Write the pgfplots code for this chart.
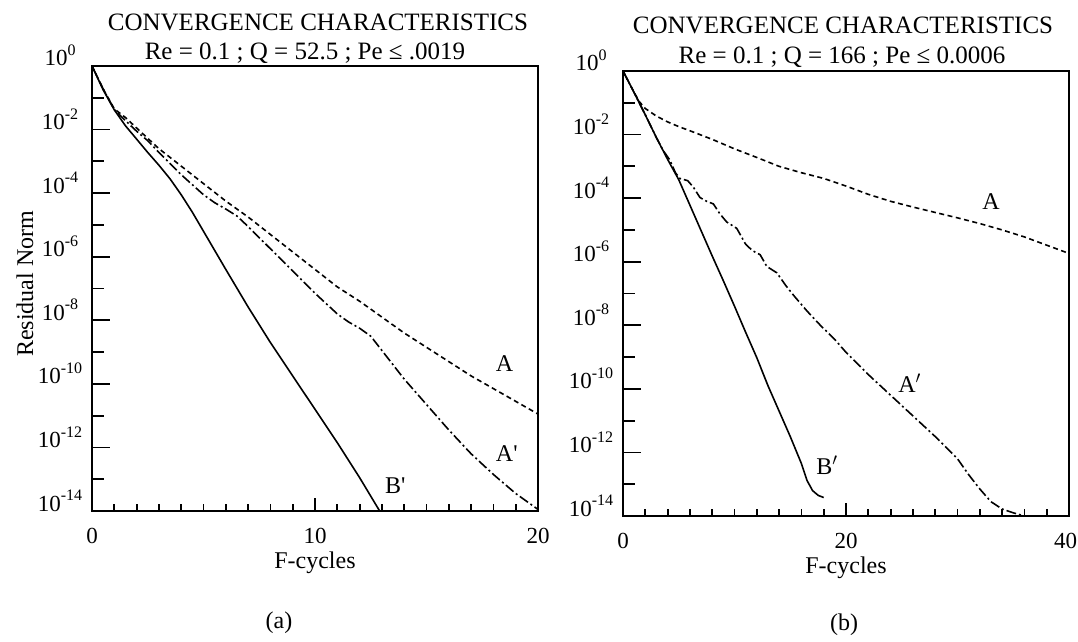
\documentclass[border=0pt]{standalone}
\usepackage{fontspec}
\setmainfont{Liberation Serif}
\usepackage{pgfplots}
\pgfplotsset{compat=1.18}
\newcommand{\ex}[1]{10\raisebox{0.45em}{\fontsize{16}{16}\selectfont #1}}
\pgfplotsset{
  panel/.style={scale only axis, width=446pt, height=445pt, anchor=south west,
    ymin=-14, ymax=0, axis line style={line width=2.2pt},
    tick align=inside, every tick/.style={black, line width=1.8pt}},
  curveA/.style={black, line width=1.6pt, dash pattern=on 5pt off 3.5pt},
  curveAp/.style={black, line width=1.6pt, dash pattern=on 10pt off 3pt on 2pt off 3pt},
  curveB/.style={black, line width=1.6pt, line join=round},
  ytickaxis/.style={panel, xtick=\empty, ytick pos=left,
    ytick={-14,-12,-10,-8,-6,-4,-2,0},
    yticklabels={\ex{-14},\ex{-12},\ex{-10},\ex{-8},\ex{-6},\ex{-4},\ex{-2},\ex{0}},
    minor ytick={-13,-11,-9,-7,-5,-3,-1},
    major tick length=18pt, minor tick length=12pt,
    yticklabel style={font=\fontsize{23}{23}\selectfont, anchor=base, inner sep=0pt, xshift=-32pt}},
  mainaxis/.style={panel, ytick=\empty, xtick pos=bottom,
    major tick length=13pt, minor tick length=7pt,
    xticklabel style={font=\fontsize{23}{23}\selectfont, anchor=north, inner sep=0pt, yshift=-17pt},
    xlabel={F-cycles},
    xlabel style={at={(axis description cs:0.5,0)}, anchor=north, inner sep=0pt, yshift=-41pt, font=\fontsize{24}{24}\selectfont}},
}
\begin{document}
\begin{tikzpicture}
\useasboundingbox (0pt,0pt) rectangle (1078pt,641pt);

% ---------- left panel ----------
\begin{axis}[ytickaxis, at={(92pt,130pt)}, xmin=0, xmax=20]
\end{axis}
\begin{axis}[mainaxis, at={(92pt,130pt)}, xmin=0, xmax=20,
  xtick={0,10,20}, xticklabels={0,10,20},
  minor xtick={1,2,3,4,5,6,7,8,9,11,12,13,14,15,16,17,18,19}]
\addplot[curveA] coordinates {(0,0)(0.5,-0.72)(1,-1.35)(1.5,-1.62)(2,-1.95)(3,-2.6)(4,-3.15)(5,-3.7)(6,-4.25)(7,-4.75)(8,-5.3)(9,-5.85)(10,-6.4)(11,-6.95)(12,-7.4)(13,-7.9)(14,-8.4)(15,-8.85)(16,-9.3)(17,-9.75)(18,-10.15)(19,-10.55)(20,-10.95)};
\addplot[curveAp] coordinates {(0,0)(0.5,-0.72)(1,-1.37)(1.5,-1.72)(2,-2.05)(2.5,-2.35)(3,-2.72)(4,-3.42)(5,-4.05)(5.5,-4.3)(6,-4.5)(6.5,-4.72)(7,-5.05)(8,-5.75)(9,-6.45)(10,-7.15)(11,-7.8)(11.5,-8.05)(12,-8.25)(12.5,-8.5)(13,-8.95)(14,-9.85)(15,-10.65)(16,-11.45)(17,-12.2)(18,-12.85)(19,-13.45)(20,-13.95)};
\addplot[curveB] coordinates {(0,0)(0.5,-0.75)(1,-1.38)(1.5,-1.88)(2,-2.3)(2.5,-2.72)(3,-3.12)(3.5,-3.55)(4,-4.05)(4.5,-4.6)(5,-5.2)(5.5,-5.8)(6,-6.4)(7,-7.58)(8,-8.7)(9,-9.75)(10,-10.8)(11,-11.85)(12,-12.95)(12.9,-14)};
\node[font=\fontsize{24}{24}\selectfont] at (axis cs:18.5,-9.35) {A};
\node[font=\fontsize{24}{24}\selectfont] at (axis cs:18.6,-12.2) {A\textquotesingle};
\node[font=\fontsize{24}{24}\selectfont] at (axis cs:13.6,-13.2) {B\textquotesingle};
\end{axis}

% ---------- right panel ----------
\begin{axis}[ytickaxis, at={(623pt,125pt)}, xmin=0, xmax=40]
\end{axis}
\begin{axis}[mainaxis, at={(623pt,125pt)}, xmin=0, xmax=40,
  xtick={0,20,40}, xticklabels={0,20,{\kern-7pt 40}},
  minor xtick={2,4,6,8,10,12,14,16,18,22,24,26,28,30,32,34,36,38}]
\addplot[curveA] coordinates {(0,0)(1,-0.68)(1.5,-0.98)(2,-1.18)(3,-1.42)(4,-1.6)(5,-1.75)(6,-1.88)(8,-2.15)(10,-2.45)(12,-2.72)(14,-3.0)(16,-3.2)(18,-3.38)(20,-3.62)(22,-3.88)(24,-4.1)(26,-4.28)(28,-4.45)(30,-4.62)(32,-4.8)(34,-5.0)(36,-5.22)(38,-5.48)(40,-5.74)};
\addplot[curveAp] coordinates {(0,0)(1,-0.68)(2,-1.38)(3,-2.1)(3.6,-2.5)(4.2,-2.8)(4.7,-3.2)(5.1,-3.38)(5.8,-3.45)(6.3,-3.65)(6.9,-3.98)(7.5,-4.1)(8.1,-4.18)(8.7,-4.5)(9.3,-4.75)(10.2,-4.95)(11,-5.45)(11.6,-5.65)(12.3,-5.78)(12.9,-6.15)(13.8,-6.35)(14.6,-6.75)(15.4,-7.1)(16.5,-7.55)(17.7,-8.0)(19,-8.45)(20,-8.85)(22,-9.55)(24,-10.2)(26,-10.85)(28,-11.5)(30,-12.2)(31,-12.7)(32,-13.15)(33,-13.55)(34,-13.78)(35,-13.9)(36,-14.0)};
\addplot[curveB] coordinates {(0,0)(1,-0.68)(2,-1.38)(3,-2.1)(4,-2.78)(5,-3.42)(6,-4.22)(7,-5.02)(8,-5.82)(9,-6.6)(10,-7.4)(11,-8.22)(12,-9.02)(13,-9.9)(14,-10.7)(15,-11.5)(16,-12.35)(16.5,-12.88)(17,-13.2)(17.5,-13.35)(18,-13.42)};
\node[font=\fontsize{24}{24}\selectfont] at (axis cs:33,-4.1) {A};
\node[font=\fontsize{24}{24}\selectfont] at (axis cs:25.7,-9.83) {A$'$};
\node[font=\fontsize{24}{24}\selectfont] at (axis cs:18.3,-12.4) {B$'$};
\end{axis}

% ---------- titles and captions ----------
\node[anchor=base, font=\fontsize{25}{25}\selectfont] at (318pt,610pt) {CONVERGENCE CHARACTERISTICS};
\node[anchor=base, font=\fontsize{25}{25}\selectfont] at (305pt,581pt) {Re = 0.1 ; Q = 52.5 ; Pe ≤ .0019};
\node[anchor=base, font=\fontsize{25}{25}\selectfont] at (843pt,607pt) {CONVERGENCE CHARACTERISTICS};
\node[anchor=base, font=\fontsize{25}{25}\selectfont] at (842pt,577pt) {Re = 0.1 ; Q = 166 ; Pe ≤ 0.0006};
\node[rotate=90, font=\fontsize{24}{24}\selectfont] at (25pt,357pt) {Residual Norm};
\node[font=\fontsize{24}{24}\selectfont] at (279pt,18pt) {(a)};
\node[font=\fontsize{24}{24}\selectfont] at (844pt,16pt) {(b)};
\end{tikzpicture}
\end{document}
